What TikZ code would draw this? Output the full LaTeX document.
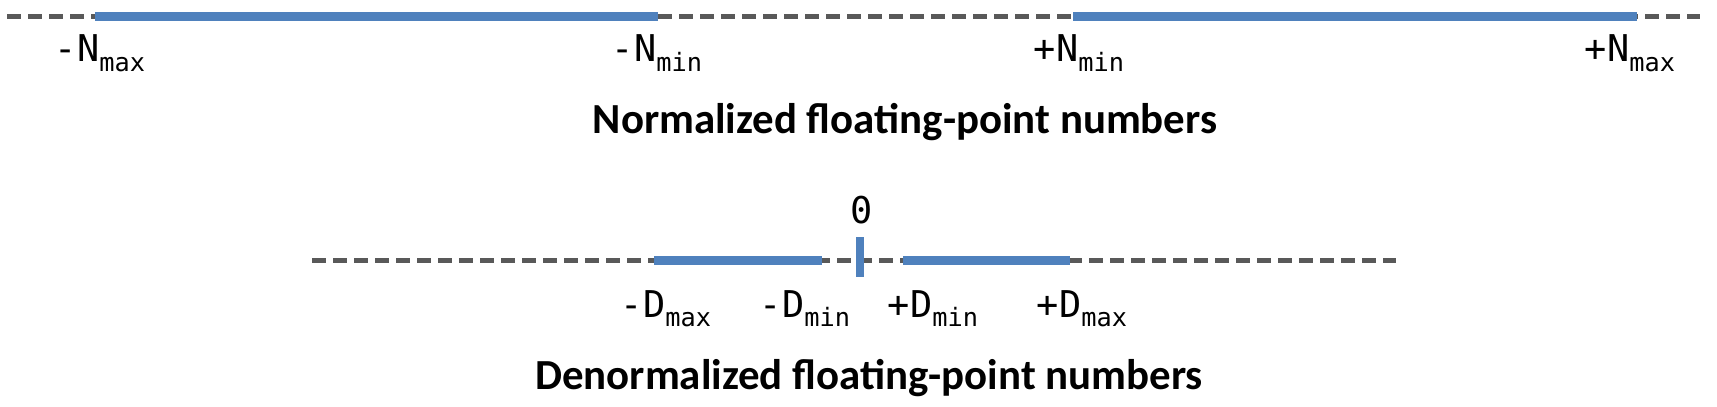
\documentclass[tikz,border=0pt]{standalone}
\usepackage{fontspec}
\setmainfont{Carlito}
\setmonofont{DejaVu Sans Mono}

\definecolor{rangeblue}{HTML}{4F81BD}
\definecolor{axisgray}{HTML}{595959}

\tikzset{
  axisline/.style={line width=0.5mm, draw=axisgray, dash pattern=on 1.4mm off 0.7mm},
  rangeline/.style={line width=0.9mm, draw=rangeblue},
  zerotick/.style={line width=0.8mm, draw=rangeblue},
  numlabel/.style={anchor=base, inner sep=0pt, font=\ttfamily\fontsize{10.5}{12}\selectfont},
  rangetitle/.style={anchor=base, inner sep=0pt, font=\bfseries\fontsize{12.2}{14}\selectfont}
}

\newcommand{\bound}[3]{#1#2\raisebox{-2.8pt}{\fontsize{7.2}{8}\selectfont #3}}

\begin{document}
\begin{tikzpicture}[x=0.1mm, y=-0.1mm]

        \useasboundingbox (0,0) rectangle (1717,407);

        % normalized range
        \coordinate (nleft) at (7,17);
        \coordinate (nright) at (1700,17);
        \coordinate (nmaxneg) at (95,17);
        \coordinate (nminneg) at (658,17);
        \coordinate (nminpos) at (1073,17);
        \coordinate (nmaxpos) at (1637,17);

        \draw[axisline] (nleft) -- (nright);
        \draw[rangeline] (nmaxneg) -- (nminneg);
        \draw[rangeline] (nminpos) -- (nmaxpos);

        \node[numlabel] (lnmaxneg) at (100,62) {\bound{-}{N}{max}};
        \node[numlabel] (lnminneg) at (657,62) {\bound{-}{N}{min}};
        \node[numlabel] (lnminpos) at (1079,62) {\bound{+}{N}{min}};
        \node[numlabel] (lnmaxpos) at (1630,62) {\bound{+}{N}{max}};

        \node[rangetitle] (ntitle) at (905,133) {Normalized floating-point numbers};

        % denormalized range
        \coordinate (dleft) at (312,260);
        \coordinate (dright) at (1396,260);
        \coordinate (dmaxneg) at (654,260);
        \coordinate (dminneg) at (822,260);
        \coordinate (dminpos) at (903,260);
        \coordinate (dmaxpos) at (1070,260);
        \coordinate (ztop) at (860,237);
        \coordinate (zbot) at (860,277);

        \draw[axisline] (dleft) -- (dright);
        \draw[rangeline] (dmaxneg) -- (dminneg);
        \draw[rangeline] (dminpos) -- (dmaxpos);
        \draw[zerotick] (ztop) -- (zbot);

        \node[numlabel] (lzero) at (862,223) {0};
        \node[numlabel] (ldmaxneg) at (666,317) {\bound{-}{D}{max}};
        \node[numlabel] (ldminneg) at (805,317) {\bound{-}{D}{min}};
        \node[numlabel] (ldminpos) at (933,317) {\bound{+}{D}{min}};
        \node[numlabel] (ldmaxpos) at (1082,317) {\bound{+}{D}{max}};

        \node[rangetitle] (dtitle) at (869,389) {Denormalized floating-point numbers};

      \end{tikzpicture}
\end{document}
